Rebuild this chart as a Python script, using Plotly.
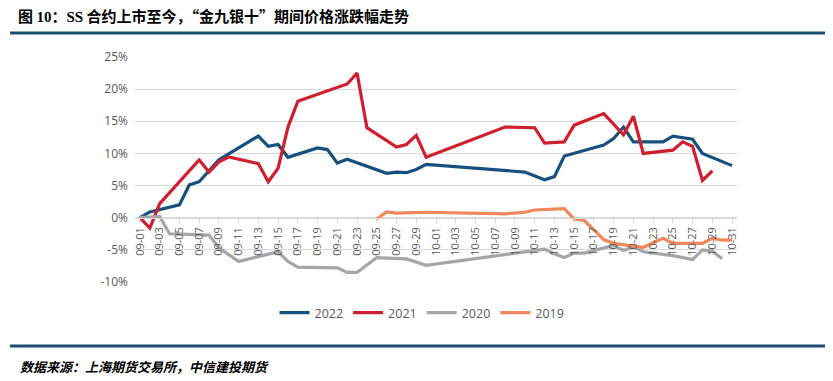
import plotly.graph_objects as go

# ---- categories (calendar days, Sep 1 – Oct 31) ----
sep_days = [f"09-{d:02d}" for d in range(1, 31)]
oct_days = [f"10-{d:02d}" for d in range(1, 32)]
dates = sep_days + oct_days
tick_labels = dates[::2]

# ---- series (vertex dates and % change) ----
d2022 = ["09-01", "09-02", "09-05", "09-06", "09-07", "09-09", "09-13", "09-14", "09-15", "09-16",
         "09-19", "09-20", "09-21", "09-22", "09-26", "09-27", "09-28", "09-29", "09-30", "10-10",
         "10-12", "10-13", "10-14", "10-17", "10-18", "10-19", "10-20", "10-21", "10-24", "10-25",
         "10-27", "10-28", "10-31"]
v2022 = [0.0, 0.9, 2.0, 5.1, 5.6, 9.0, 12.7, 11.1, 11.4, 9.4,
         10.85, 10.6, 8.5, 9.1, 6.9, 7.1, 7.0, 7.5, 8.3, 7.1,
         5.9, 6.4, 9.6, 10.8, 11.3, 12.3, 14.1, 11.8, 11.8, 12.7,
         12.2, 10.0, 8.1]

d2021 = ["09-01", "09-02", "09-03", "09-07", "09-08", "09-09", "09-10", "09-13", "09-14", "09-15",
         "09-16", "09-17", "09-22", "09-23", "09-24", "09-27", "09-28", "09-29", "09-30", "10-08",
         "10-11", "10-12", "10-14", "10-15", "10-18", "10-20", "10-21", "10-22", "10-25", "10-26",
         "10-27", "10-28", "10-29"]
v2021 = [0.0, -1.6, 2.2, 9.0, 7.1, 8.7, 9.45, 8.4, 5.6, 7.7,
         14.1, 18.1, 20.8, 22.5, 14.0, 11.0, 11.4, 12.8, 9.4, 14.1,
         14.0, 11.6, 11.8, 14.4, 16.2, 12.9, 15.8, 10.0, 10.5, 11.8,
         11.1, 5.8, 7.3]

d2020 = ["09-01", "09-03", "09-04", "09-08", "09-09", "09-11", "09-15", "09-16", "09-17", "09-21",
         "09-22", "09-23", "09-25", "09-28", "09-30", "10-12", "10-13", "10-14", "10-15", "10-16",
         "10-19", "10-20", "10-21", "10-22", "10-25", "10-27", "10-28", "10-29", "10-30"]
v2020 = [0.0, 0.2, -2.5, -2.7, -4.7, -6.8, -5.3, -6.8, -7.7, -7.8,
         -8.5, -8.5, -6.2, -6.4, -7.4, -4.9, -5.6, -6.2, -5.5, -5.5,
         -4.3, -5.1, -4.5, -5.3, -5.9, -6.5, -5.0, -5.2, -6.4]

d2019 = ["09-25", "09-26", "09-27", "09-30", "10-08", "10-10", "10-11", "10-14", "10-15", "10-16",
         "10-17", "10-18", "10-19", "10-22", "10-24", "10-25", "10-28", "10-29", "10-30", "10-31"]
v2019 = [-0.2, 0.9, 0.7, 0.85, 0.6, 0.85, 1.2, 1.4, -0.2, -0.4,
         -1.9, -3.4, -4.0, -4.6, -3.2, -4.0, -4.0, -3.2, -3.5, -3.5]

series_names = ["2022", "2021", "2020", "2019"]
series_x = [d2022, d2021, d2020, d2019]
series_y = [v2022, v2021, v2020, v2019]
colors = ["#17507C", "#CF1F2E", "#A6A6A6", "#F2875C"]

y_ticks = [-10, -5, 0, 5, 10, 15, 20, 25]

W, H = 833, 381
L, R, T, B = 135, 96, 57, 99
PW, PH = W - L - R, H - T - B


def px(x):
    return (x - L) / PW


def py(y):
    return (H - B - y) / PH


fig = go.Figure()
# helper trace to register every calendar day on the category axis
fig.add_trace(go.Scatter(x=dates, y=[None] * len(dates), mode="lines",
                         showlegend=False, hoverinfo="skip"))
for name, xs, ys, c in zip(series_names, series_x, series_y, colors):
    fig.add_trace(go.Scatter(x=xs, y=ys, mode="lines", name=name,
                             line=dict(color=c, width=3.2)))

fig.update_layout(
    width=W, height=H,
    margin=dict(l=L, r=R, t=T, b=B),
    paper_bgcolor="white", plot_bgcolor="white",
    font=dict(family="Open Sans, Noto Sans CJK SC", color="#595959"),
    title=dict(
        text="图 <span style=\"font-family:'Liberation Serif'\">10</span>：<span style=\"font-family:'Liberation Serif'\">SS</span> 合约上市至今，“金九银十”期间价格涨跌幅走势",
        x=18 / W, xanchor="left", y=1 - 17 / H, yanchor="middle",
        font=dict(family="Noto Sans CJK SC", size=15, color="#000000", weight="bold"),
    ),
    xaxis=dict(
        type="category", categoryorder="array", categoryarray=dates,
        range=[-0.5, len(dates) - 0.5],
        tickmode="array", tickvals=tick_labels, ticktext=tick_labels,
        tickangle=-90, tickfont=dict(size=11, color="#595959"),
        anchor="free", position=10 / 35,
        showgrid=False, showline=True, linecolor="#D9D9D9", linewidth=1,
        ticks="outside", ticklen=4, tickcolor="#D9D9D9",
        zeroline=False, fixedrange=True,
    ),
    yaxis=dict(
        range=[-10, 25], tickmode="array", tickvals=y_ticks,
        ticktext=[f"{v}%" for v in y_ticks],
        tickfont=dict(size=12, color="#595959"),
        showgrid=True, gridcolor="#D9D9D9", gridwidth=1,
        zeroline=False, showline=False, ticklabelstandoff=6, fixedrange=True,
    ),
    legend=dict(
        orientation="h", x=px(422), xanchor="center", y=py(313), yanchor="middle",
        font=dict(size=12.5, color="#595959"), bgcolor="rgba(0,0,0,0)",
    ),
    shapes=[
        dict(type="line", xref="paper", yref="paper", x0=px(10), x1=px(825), y0=py(33), y1=py(33),
             line=dict(color="#1B4F72", width=3)),
        dict(type="line", xref="paper", yref="paper", x0=px(10), x1=px(825), y0=py(346), y1=py(346),
             line=dict(color="#1B4F72", width=3)),
    ],
    annotations=[
        dict(text="<b><i>数据来源：上海期货交易所，中信建投期货</i></b>", xref="paper", yref="paper",
             x=px(18), y=py(366), xanchor="left", yanchor="middle", showarrow=False,
             font=dict(family="Noto Sans CJK SC", size=13, color="#000000")),
    ],
)

fig.write_html(
    "out.html",
    config={"displayModeBar": False},
    post_script="document.body.style.margin='0px';document.body.style.overflow='hidden';",
)
